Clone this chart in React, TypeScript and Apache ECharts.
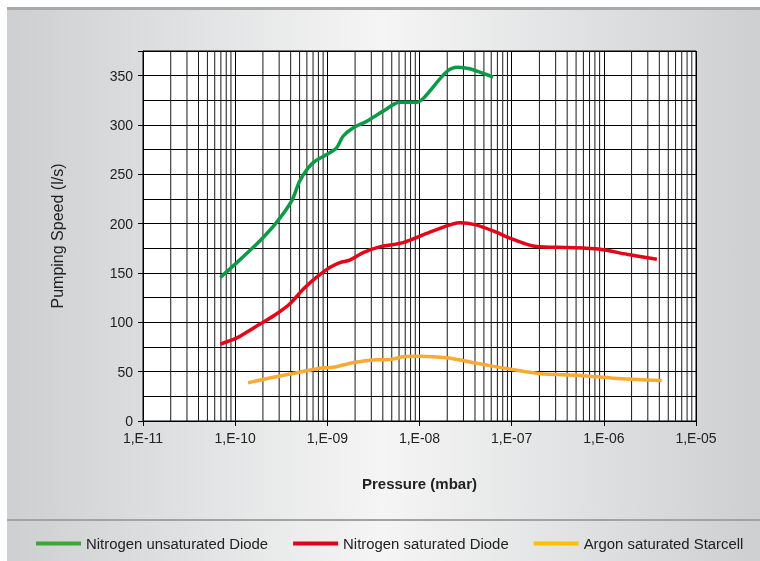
import React, { useEffect, useRef } from "react";
import * as echarts from "echarts";

const seriesNames = ["Nitrogen unsaturated Diode", "Nitrogen saturated Diode", "Argon saturated Starcell"];
const lineColors = ["#0c9a47", "#e30618", "#f9aa33"];
const legendColors = ["#3fa535", "#e2001a", "#fcc200"];

const greenX = [6.9e-11, 1.0e-10, 1.85e-10, 2.8e-10, 4.1e-10, 5e-10, 6.2e-10, 7.3e-10, 9.8e-10, 1.26e-9, 1.48e-9, 1.9e-9, 2.67e-9, 4.0e-9, 6.1e-9, 9.3e-9, 1.1e-8, 1.97e-8, 2.6e-8, 3.5e-8, 6.3e-8];
const greenY = [145.5, 159, 182.5, 201, 223, 243, 256.5, 263, 270, 276.8, 288.6, 297, 303.7, 313.8, 323, 323, 327, 354, 358.6, 357, 348.5];

const redX = [6.9e-11, 1.03e-10, 1.33e-10, 1.85e-10, 2.8e-10, 3.9e-10, 5.5e-10, 7.6e-10, 1.06e-9, 1.37e-9, 1.75e-9, 2.45e-9, 3.7e-9, 6.65e-9, 1.41e-8, 2.75e-8, 4e-8, 6.3e-8, 1.04e-7, 1.86e-7, 4e-7, 9.1e-7, 1.78e-6, 3.76e-6];
const redY = [78, 84, 90, 98, 108.5, 118.6, 133.7, 145.5, 155.6, 160.6, 163, 170.7, 176.5, 180.8, 192.6, 201, 199, 192.6, 184, 176.8, 175.8, 174, 169, 164];

const orangeX = [1.38e-10, 2.58e-10, 5e-10, 8.3e-10, 1.16e-9, 1.9e-9, 3.4e-9, 4.8e-9, 6.9e-9, 1.0e-8, 1.97e-8, 4.5e-8, 1.04e-7, 2.04e-7, 5.5e-7, 1.27e-6, 4.25e-6];
const orangeY = [38.8, 44.4, 49.5, 53.5, 54.5, 59, 62, 62.3, 65.3, 65.7, 64, 58, 52, 47.9, 46.2, 43.4, 41];

const decadeExponents = [-11, -10, -9, -8, -7, -6];
const minorMultipliers = [2, 3, 4, 5, 6, 7, 8, 9];
const yMin = 0;
const yMax = 375;

const zip = (xs: number[], ys: number[]) => xs.map((x, i) => [x, ys[i]]);

export default function App() {
  const ref = useRef<HTMLDivElement>(null);
  useEffect(() => {
    if (!ref.current) return;
    const chart = echarts.init(ref.current, null, { renderer: "svg" });
    const minorValues: number[] = [];
    decadeExponents.forEach((e) =>
      minorMultipliers.forEach((m) => minorValues.push(m * Math.pow(10, e)))
    );
    const datasets = [zip(greenX, greenY), zip(redX, redY), zip(orangeX, orangeY)];
    chart.setOption({
      animation: false,
      graphic: [
        {
          type: "rect",
          z: -100,
          shape: { x: 7, y: 8, width: 753, height: 553 },
          style: {
            fill: new echarts.graphic.LinearGradient(0, 0, 1, 0, [
              { offset: 0, color: "#cdcfd1" },
              { offset: 0.5, color: "#f5f5f5" },
              { offset: 1, color: "#cdcfd1" },
            ]),
          },
        },
        { type: "rect", z: -90, shape: { x: 7, y: 7, width: 753, height: 3 }, style: { fill: "#a9a9a9" } },
        { type: "rect", z: -90, shape: { x: 7, y: 519, width: 753, height: 2 }, style: { fill: "#a3a3a3" } },
      ],
      grid: {
        left: 143,
        top: 51,
        width: 553,
        height: 370,
        show: true,
        backgroundColor: "#ffffff",
        borderColor: "#000",
        borderWidth: 1,
      },
      legend: {
        left: 31,
        top: 531,
        icon: "rect",
        itemWidth: 45,
        itemHeight: 4,
        itemGap: 25,
        textStyle: { fontFamily: "'Liberation Sans', sans-serif", fontSize: 14.9, color: "#222" },
        data: seriesNames.map((n, i) => ({ name: n, itemStyle: { color: legendColors[i] } })),
      },
      xAxis: {
        type: "log",
        logBase: 10,
        min: 1e-11,
        max: 1e-5,
        splitNumber: 6,
        name: "Pressure (mbar)",
        nameLocation: "middle",
        nameGap: 55,
        nameTextStyle: { fontFamily: "'Liberation Sans', sans-serif", fontSize: 15, fontWeight: "bold", color: "#222" },
        axisLine: { show: true, lineStyle: { color: "#000", width: 1 } },
        axisTick: { show: true, length: 5, lineStyle: { color: "#000" } },
        axisLabel: {
          fontFamily: "'Liberation Sans', sans-serif",
          fontSize: 14,
          color: "#222",
          margin: 10,
          formatter: (v: number) => {
            const e = Math.round(Math.log10(v));
            const a = Math.abs(e);
            return "1,E-" + (a < 10 ? "0" + a : "" + a);
          },
        },
        splitLine: { show: true, lineStyle: { color: "#000", width: 1 } },
      },
      yAxis: {
        type: "value",
        min: yMin,
        max: yMax,
        interval: 50,
        name: "Pumping Speed (l/s)",
        nameLocation: "middle",
        nameGap: 78,
        nameTextStyle: { fontFamily: "'Liberation Sans', sans-serif", fontSize: 16, color: "#222" },
        axisLine: { show: true, lineStyle: { color: "#000", width: 1 } },
        axisTick: { show: true, length: 5, lineStyle: { color: "#000" } },
        axisLabel: {
          fontFamily: "'Liberation Sans', sans-serif",
          fontSize: 14,
          color: "#222",
          margin: 10,
          formatter: (v: number) => (v % 50 === 0 ? String(v) : ""),
        },
        splitLine: { show: true, lineStyle: { color: "#000", width: 1 } },
        minorTick: { show: false, splitNumber: 2 },
        minorSplitLine: { show: true, lineStyle: { color: "#000", width: 1 } },
      },
      series: [
        {
          name: "__minorgrid",
          type: "custom",
          z: 1,
          silent: true,
          clip: true,
          data: minorValues.map((v) => [v]),
          renderItem: (params: any, api: any) => {
            const v = api.value(0);
            const p1 = api.coord([v, yMin]);
            const p2 = api.coord([v, yMax]);
            const top = Math.max(p2[1], params.coordSys.y);
            return {
              type: "line",
              shape: { x1: p1[0], y1: p1[1], x2: p2[0], y2: top },
              style: { stroke: "#1a1a1a", lineWidth: 1 },
            };
          },
        },
        ...seriesNames.map((n, i) => ({
          name: n,
          type: "line",
          z: 3,
          data: datasets[i],
          smooth: 0.3,
          showSymbol: false,
          symbol: "none",
          lineStyle: { color: lineColors[i], width: 3.5 },
          itemStyle: { color: lineColors[i] },
        })),
      ],
    });
    return () => chart.dispose();
  }, []);
  return <div ref={ref} style={{ position: "fixed", left: 0, top: 0, width: 760, height: 561 }} />;
}
